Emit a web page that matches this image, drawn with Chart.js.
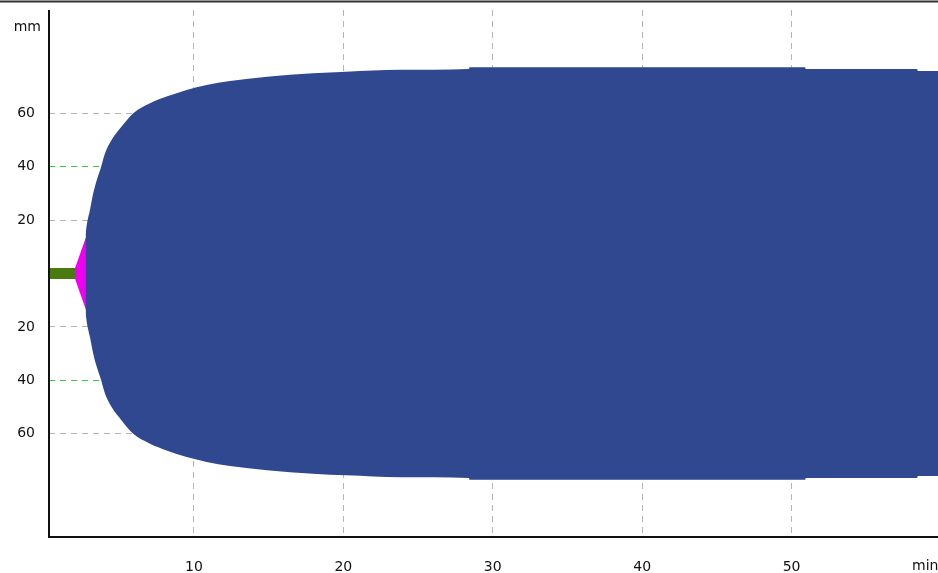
<!DOCTYPE html>
<html>
<head>
<meta charset="utf-8">
<script src="https://cdn.jsdelivr.net/npm/chart.js@4.4.1/dist/chart.umd.min.js"></script>
<style>
  html, body { margin: 0; padding: 0; background: #fff; overflow: hidden; }
  #wrap { width: 938px; height: 573px; }
</style>
</head>
<body>
<div id="wrap"><canvas id="c" width="938" height="573"></canvas></div>
<script>
// ---- data ----
const xTicks = [10, 20, 30, 40, 50];
const yTicks = [-60, -40, -20, 20, 40, 60];
const xTitle = 'min';
const yTitle = 'mm';

// R phase (green bar on the baseline)
const rTimes = [0.3, 2.04];
const rAmp = [0, 0];

// K phase (magenta wedge)
const kTimes = [2.04, 2.8, 2.9];
const kAmp = [2, 14, 16];

// clot amplitude (blue envelope, symmetric)
const clotTimes = [2.75, 2.85, 3.04, 3.26, 3.5, 3.76, 4.05, 4.49, 5.16, 5.94, 7.06, 8.17, 9.51, 10.85, 12.41, 14.9, 17.96, 20.2, 23.8, 28.4, 28.45, 50.9, 50.95, 58.4, 58.45, 59.8];
const clotAmp =  [15,   19,   23.8, 30,   35,  39.4, 45,   50,   55,   60,   63.7, 66.2, 68.7, 70.5,  72,    73.6, 74.9,  75.5, 76.2, 76.5, 77.2,  77.2, 76.5,  76.5, 75.8,  75.8];

const toPts = (t, a, sign) => t.map((v, i) => ({ x: v, y: sign * a[i] }));

const BLUE = '#2f4890';
const MAGENTA = '#f000f0';
const GREEN = '#4a7a10';
const GRID = '#b4b4b4';
const GRID_GREEN = '#3cc83c';

const decor = {
  id: 'decor',
  afterDraw(chart) {
    const { ctx, chartArea: a } = chart;
    ctx.save();
    ctx.strokeStyle = '#111';
    ctx.lineWidth = 2;
    ctx.beginPath();
    ctx.moveTo(a.left, a.top);
    ctx.lineTo(a.left, a.bottom);
    ctx.lineTo(a.right, a.bottom);
    ctx.stroke();
    ctx.strokeStyle = '#333';
    ctx.beginPath();
    ctx.moveTo(0, 1.5);
    ctx.lineTo(chart.width, 1.5);
    ctx.stroke();
    ctx.fillStyle = '#111';
    ctx.textBaseline = 'middle';
    ctx.font = '14px "DejaVu Sans"';
    ctx.textAlign = 'right';
    ctx.fillText(yTitle, a.left - 8, 27);
    ctx.textAlign = 'left';
    ctx.fillText(xTitle, 912, a.bottom + 29);
    ctx.restore();
  }
};

const lineBase = { showLine: true, pointRadius: 0, borderWidth: 0, borderColor: 'rgba(0,0,0,0)', tension: 0 };

new Chart(document.getElementById('c'), {
  type: 'line',
  data: {
    datasets: [
      Object.assign({}, lineBase, { label: 'clot+', data: toPts(clotTimes, clotAmp, 1), fill: '+1', backgroundColor: BLUE, cubicInterpolationMode: 'monotone', order: 0 }),
      Object.assign({}, lineBase, { label: 'clot-', data: toPts(clotTimes, clotAmp, -1), fill: false, cubicInterpolationMode: 'monotone', order: 0 }),
      Object.assign({}, lineBase, { label: 'K+', data: toPts(kTimes, kAmp, 1), fill: '+1', backgroundColor: MAGENTA, order: 1 }),
      Object.assign({}, lineBase, { label: 'K-', data: toPts(kTimes, kAmp, -1), fill: false, order: 1 }),
      Object.assign({}, lineBase, { label: 'R', data: toPts(rTimes, rAmp, 1), fill: false, borderWidth: 11, borderColor: GREEN, borderCapStyle: 'butt', order: 2 })
    ]
  },
  options: {
    responsive: false,
    animation: false,
    devicePixelRatio: 1,
    layout: { padding: { top: 10, left: 0, right: 0, bottom: 0 } },
    plugins: { legend: { display: false }, tooltip: { enabled: false } },
    scales: {
      x: {
        type: 'linear',
        min: 0.3,
        max: 59.8,
        afterBuildTicks: (s) => { s.ticks = xTicks.map(v => ({ value: v })); },
        afterFit: (s) => { s.height = 36; s.paddingLeft = 0; s.paddingRight = 0; },
        grid: { color: GRID, lineWidth: 1, drawTicks: false },
        border: { display: false, dash: [6, 5] },
        ticks: { padding: 22, color: '#111', font: { family: 'DejaVu Sans', size: 14 }, maxRotation: 0, autoSkip: false }
      },
      y: {
        type: 'linear',
        min: -98.6,
        max: 98.6,
        afterBuildTicks: (s) => { s.ticks = yTicks.map(v => ({ value: v })); },
        afterFit: (s) => { s.width = 49; s.paddingTop = 0; s.paddingBottom = 0; },
        grid: {
          color: (ctx) => (ctx.tick && Math.abs(ctx.tick.value) === 40 ? GRID_GREEN : GRID),
          lineWidth: 1,
          drawTicks: false
        },
        border: { display: false, dash: [6, 5] },
        ticks: {
          padding: 14,
          color: '#111',
          font: { family: 'DejaVu Sans', size: 14 },
          callback: (v) => String(Math.abs(v))
        }
      }
    }
  },
  plugins: [decor]
});
</script>
</body>
</html>
